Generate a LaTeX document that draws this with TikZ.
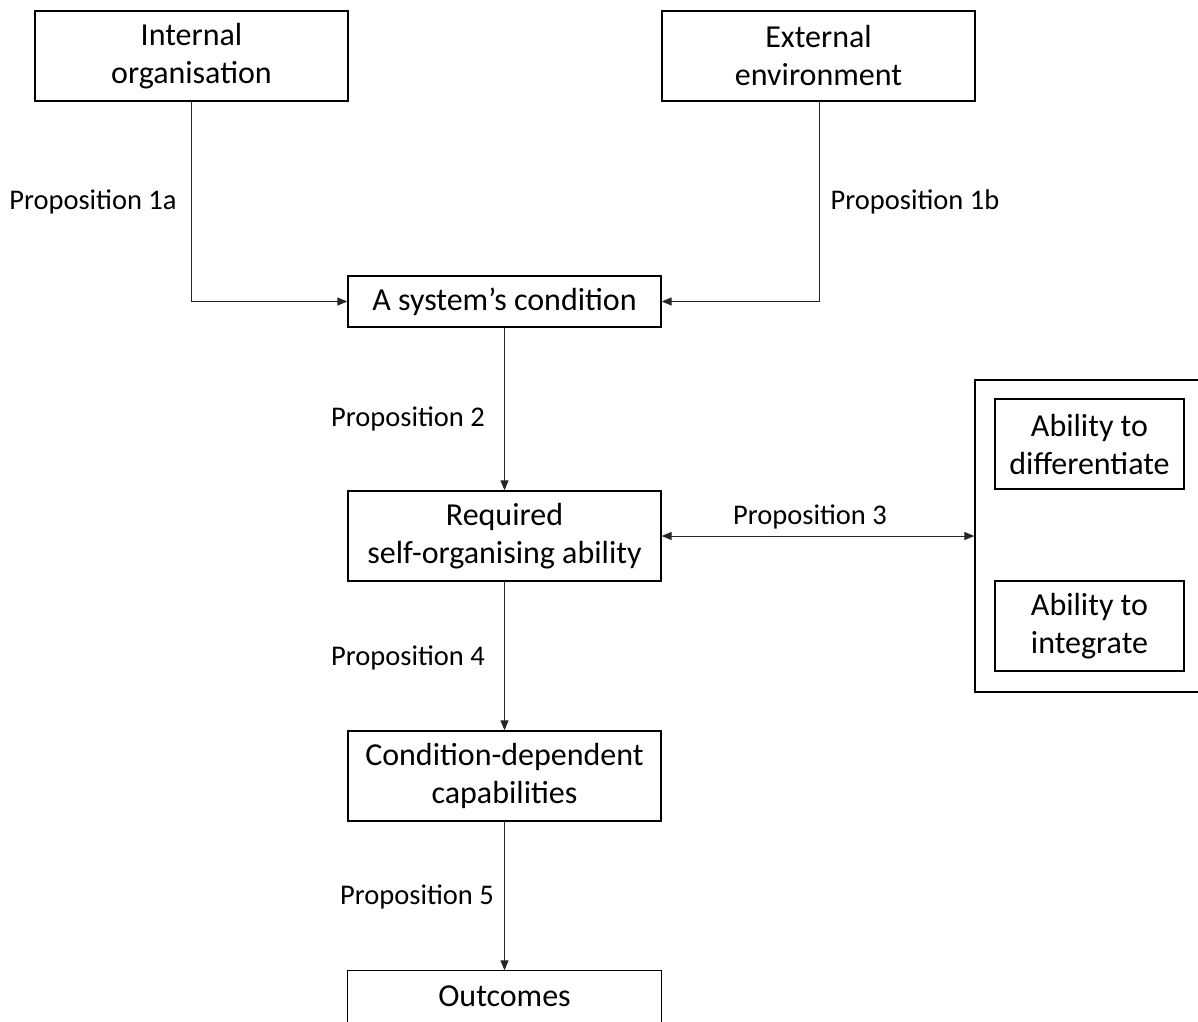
\documentclass[tikz,border=0pt]{standalone}
\usepackage{fontspec}
\setmainfont{Carlito}
\usetikzlibrary{arrows.meta}
\begin{document}
\begin{tikzpicture}[x=1pt,y=-1pt,
  box/.style={draw=black,line width=1.3pt,inner sep=0pt,align=center,
    minimum width=313pt,minimum height=90pt,
    font=\fontsize{32}{38}\selectfont},
  smallbox/.style={box,minimum width=189pt,minimum height=90pt},
  lowbox/.style={box,minimum height=51pt},
  link/.style={draw=black!85,line width=1pt,-{Triangle[length=10pt,width=8pt]}},
  biglink/.style={link,{Triangle[length=10pt,width=8pt]}-{Triangle[length=10pt,width=8pt]}},
  prop/.style={font=\fontsize{28.5}{34}\selectfont,inner sep=0pt}]
\clip (0,0) rectangle (1198,1021);
\useasboundingbox (0,0) rectangle (1198,1021);

% boxes
\node[box] (int) at (191.5,56) {Internal\\organisation};
\node[box] (ext) at (818.5,56) {External\\environment};
\node[lowbox] (cond) at (504.5,301.5) {A system’s condition};
\node[box] (req) at (504.5,536) {Required\\self-organising ability};
\node[box] (cap) at (504.5,776) {Condition-dependent\\capabilities};
% the last box runs off the lower edge
\node[lowbox,draw=none] (out) at (504.5,996.5) {Outcomes};
\draw[line width=1.3pt] ([yshift=-20pt]out.south west) rectangle (out.north east);

% group of abilities
\node[draw=black,line width=1.3pt,inner sep=0pt,minimum width=260pt,minimum height=312pt] (grp) at (1105,536) {};
\node[smallbox] (diff) at (1089.5,444) {Ability to\\differentiate};
\node[smallbox] (integ) at (1089.5,626) {Ability to\\integrate};

% connectors
\coordinate (c1) at (191,301.5);
\coordinate (c2) at (819,301.5);
\draw[link] (int.south -| c1) -- (c1) -- (cond.west);
\draw[link] (ext.south -| c2) -- (c2) -- (cond.east);
\draw[link] (cond.south) -- (req.north);
\draw[biglink] (req.east) -- (grp.west);
\draw[link] (req.south) -- (cap.north);
\draw[link] (cap.south) -- (out.north);

% labels
\node[prop] (p1a) at (93,202) {Proposition 1a};
\node[prop] (p1b) at (915,202) {Proposition 1b};
\node[prop] (p2) at (408,419) {Proposition 2};
\node[prop] (p3) at (810,517) {Proposition 3};
\node[prop] (p4) at (408,658) {Proposition 4};
\node[prop] (p5) at (417,897) {Proposition 5};
\end{tikzpicture}
\end{document}
